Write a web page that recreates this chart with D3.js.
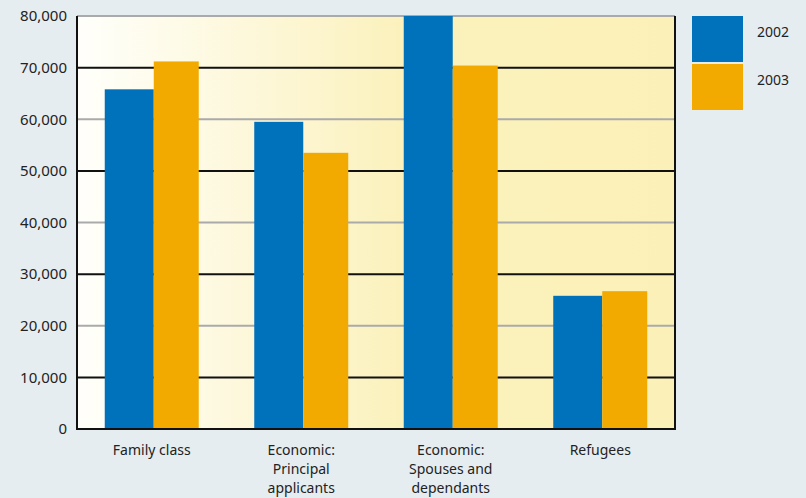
<!DOCTYPE html>
<meta charset="utf-8">
<script src="https://d3js.org/d3.v7.min.js"></script>
<style>
  body { margin: 0; background: #e6edf0; }
  text { font-family: "Noto Sans", "Open Sans", sans-serif; fill: #222; }
</style>
<div id="chart"></div>
<script>

// data
var categories = ["Family class", "Economic: Principal applicants", "Economic: Spouses and dependants", "Refugees"];
var categoryLines = [["Family class"], ["Economic:", "Principal", "applicants"], ["Economic:", "Spouses and", "dependants"], ["Refugees"]];
var series = ["2002", "2003"];
var values2002 = [65800, 59500, 80000, 25800];
var values2003 = [71200, 53500, 70400, 26700];
var yTicks = [0, 10000, 20000, 30000, 40000, 50000, 60000, 70000, 80000];

var colors = ["#0072bb", "#f2aa00"];
var W = 806, H = 498;
var margin = {top: 16, right: 131, bottom: 69, left: 77},
    width = W - margin.left - margin.right,
    height = H - margin.top - margin.bottom;

var svg = d3.select("#chart").append("svg")
    .attr("width", W)
    .attr("height", H);

// plot background gradient
var grad = svg.append("defs").append("linearGradient")
    .attr("id", "bg").attr("x1", "0").attr("x2", "1").attr("y1", "0").attr("y2", "0");
grad.append("stop").attr("offset", "0%").attr("stop-color", "#fffffb");
grad.append("stop").attr("offset", "55%").attr("stop-color", "#fbf1bc");
grad.append("stop").attr("offset", "100%").attr("stop-color", "#fbf1b8");

var g = svg.append("g")
    .attr("transform", "translate(" + margin.left + "," + margin.top + ")");

g.append("rect")
    .attr("width", width)
    .attr("height", height)
    .attr("fill", "url(#bg)");

var x0 = d3.scaleBand().domain(categories).range([0, width]);
var y = d3.scaleLinear().domain([0, 80000]).range([height, 0]);

// gridlines, alternating black / gray
g.selectAll(".grid")
  .data(yTicks.slice(1))
  .enter().append("line")
    .attr("x1", 0).attr("x2", width)
    .attr("y1", function(d) { return y(d); })
    .attr("y2", function(d) { return y(d); })
    .attr("stroke", function(d) { return (d / 10000) % 2 === 1 ? "#111" : "#aaa"; })
    .attr("stroke-width", 2);

// bars
var barW = [49, 45];
var groupW = barW[0] + barW[1];
var data = [values2002, values2003];
series.forEach(function(s, i) {
  g.append("g").selectAll("rect")
    .data(categories)
    .enter().append("rect")
      .attr("x", function(c) { return x0(c) + (x0.bandwidth() - groupW) / 2 + (i === 0 ? 0 : barW[0]); })
      .attr("y", function(c, j) { return y(data[i][j]); })
      .attr("width", barW[i])
      .attr("height", function(c, j) { return height - y(data[i][j]); })
      .attr("fill", colors[i]);
});

// frame: left, bottom, right
g.append("line").attr("x1", 0).attr("x2", 0).attr("y1", 0).attr("y2", height + 1)
    .attr("stroke", "#111").attr("stroke-width", 2);
g.append("line").attr("x1", 0).attr("x2", width).attr("y1", height).attr("y2", height)
    .attr("stroke", "#111").attr("stroke-width", 2);
g.append("line").attr("x1", width).attr("x2", width).attr("y1", 0).attr("y2", height + 1)
    .attr("stroke", "#111").attr("stroke-width", 2);

// y tick labels
var fmt = d3.format(",");
g.selectAll(".ylab")
  .data(yTicks)
  .enter().append("text")
    .attr("x", -10)
    .attr("y", function(d) { return y(d); })
    .attr("dy", "0.35em")
    .attr("text-anchor", "end")
    .style("font-size", "15px")
    .text(function(d) { return fmt(d); });

// category labels
categories.forEach(function(c, i) {
  var t = g.append("text")
    .attr("text-anchor", "middle")
    .attr("x", x0(c) + x0.bandwidth() / 2)
    .attr("y", height + 26)
    .style("font-size", "14px");
  categoryLines[i].forEach(function(line, k) {
    t.append("tspan")
      .attr("x", x0(c) + x0.bandwidth() / 2)
      .attr("dy", k === 0 ? 0 : 19)
      .text(line);
  });
});

// legend
var legend = svg.append("g").attr("transform", "translate(692,16)");
series.forEach(function(s, i) {
  legend.append("rect")
    .attr("x", 0).attr("y", i * 48)
    .attr("width", 51).attr("height", 46)
    .attr("fill", colors[i]);
  legend.append("text")
    .attr("x", 65).attr("y", i * 48 + 16)
    .attr("dy", "0.35em")
    .style("font-size", "14px")
    .text(s);
});

</script>
